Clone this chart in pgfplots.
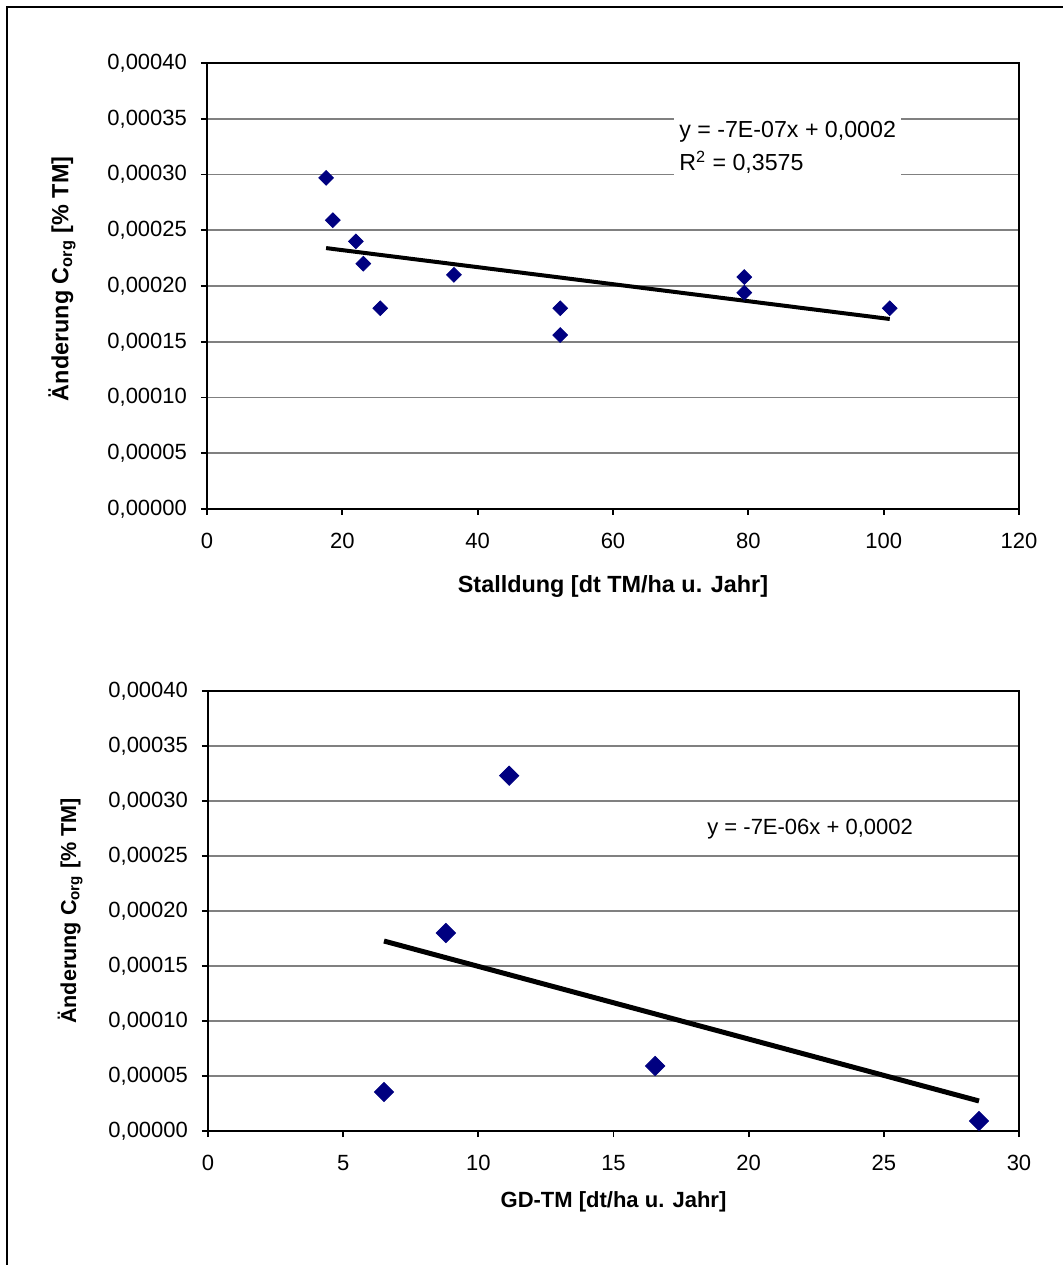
\documentclass[border=0pt]{standalone}
\usepackage{pgfplots}
\pgfplotsset{compat=1.18}
\usepackage{fontspec}
\setmainfont{Liberation Sans}
\definecolor{navy}{RGB}{0,0,128}
\definecolor{gridgray}{RGB}{128,128,128}
\pgfplotsset{
  myaxis/.style={
    scale only axis,
    anchor=south west,
    font=\fontsize{11}{13}\selectfont,
    /pgf/number format/assume math mode=true,
    axis line style={line width=1pt, black},
    tick style={line width=0.9pt, black},
    tick align=outside,
    major tick length=3pt,
    xtick pos=bottom, ytick pos=left,
    ymajorgrids,
    major grid style={line width=0.8pt, gridgray},
    ymin=0, ymax=0.0004,
    ytick={0,0.00005,0.0001,0.00015,0.0002,0.00025,0.0003,0.00035,0.0004},
    scaled y ticks=false,
    yticklabel style={xshift=-3.5pt, /pgf/number format/.cd, fixed, fixed zerofill, precision=5, use comma, 1000 sep={}},
    xticklabel style={yshift=-5.5pt, /pgf/number format/.cd, fixed, 1000 sep={}},
    clip=false,
  }
}
\begin{document}
\begin{tikzpicture}
\useasboundingbox (0,0) rectangle (531pt,632.5pt);
\draw[line width=1pt] (3.5pt,-2pt) -- (3.5pt,629pt) -- (534pt,629pt);

% top plot
\begin{axis}[myaxis,
  at={(103.5pt,378pt)},
  width=406pt, height=223pt,
  xmin=0, xmax=120, xtick={0,20,40,60,80,100,120},
  xlabel={\textbf{Stalldung [dt TM/ha u. Jahr]}},
  xlabel style={at={(axis description cs:0.5,-0.173)}, anchor=center, font=\fontsize{11.7}{14}\selectfont},
  ylabel={\textbf{Änderung C\textsubscript{org} [\% TM]}},
  ylabel style={at={(axis description cs:-0.1786,0.516)}, anchor=center, rotate=0, font=\fontsize{11.7}{14}\selectfont},
]
\addplot[only marks, mark=square*, mark size=2.6pt, mark options={rotate=45, fill=navy, draw=navy}]
  coordinates {
  (17.6,0.000297) (18.6,0.000259) (22.0,0.000240) (23.1,0.000220)
  (25.6,0.000180) (36.5,0.000210) (52.2,0.000180) (52.2,0.000156)
  (79.4,0.000208) (79.4,0.000194) (100.9,0.000180)
  };
\addplot[black, line width=2pt] coordinates {(17.6,0.000234) (100.9,0.0001704)};
\node[anchor=west, fill=white, align=left, inner xsep=2.5pt, inner ysep=3pt,
      font=\fontsize{11.6}{16.5}\selectfont]
  at (axis cs:69.0,0.0003240) {y = -7E-07x + 0,0002\\R\textsuperscript{2} = 0,3575};
\end{axis}

% bottom plot
\begin{axis}[myaxis,
  at={(104pt,67pt)},
  width=405.5pt, height=220pt,
  xmin=0, xmax=30, xtick={0,5,10,15,20,25,30},
  xlabel={\textbf{GD-TM [dt/ha u. Jahr]}},
  xlabel style={at={(axis description cs:0.5,-0.161)}, anchor=center},
  ylabel={\textbf{Änderung C\textsubscript{org} [\% TM]}},
  ylabel style={at={(axis description cs:-0.170,0.5)}, anchor=center, rotate=0, font=\fontsize{10.8}{13}\selectfont},
]
\addplot[only marks, mark=square*, mark size=3.4pt, mark options={rotate=45, fill=navy, draw=navy}]
  coordinates {
  (6.51,0.0000355) (8.80,0.000180) (11.14,0.000323) (16.54,0.0000591) (28.52,0.0000091)
  };
\addplot[black, line width=2.5pt] coordinates {(6.51,0.0001727) (28.52,0.0000273)};
\node[anchor=west, inner xsep=2pt, font=\fontsize{11}{13}\selectfont]
  at (axis cs:18.31,0.0002745) {y = -7E-06x + 0,0002};
\end{axis}
\end{tikzpicture}
\end{document}
